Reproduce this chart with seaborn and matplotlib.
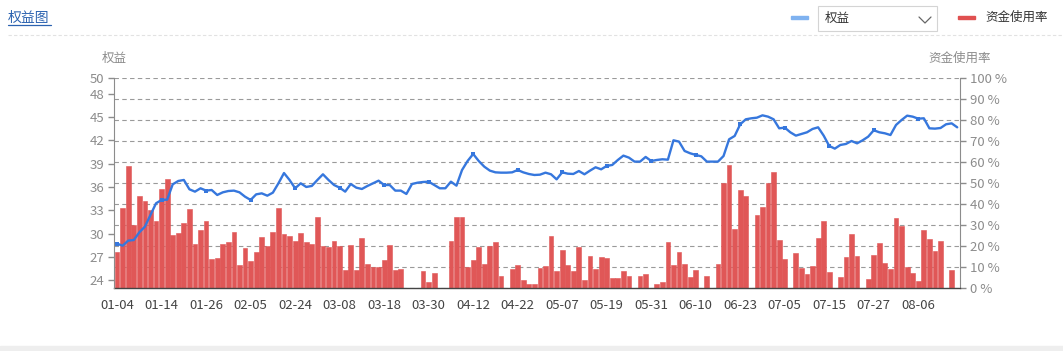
import numpy as np
import pandas as pd
import matplotlib
matplotlib.use("Agg")
import matplotlib.pyplot as plt
from matplotlib.lines import Line2D
from matplotlib.patches import Rectangle
import seaborn as sns

# ─────────────────────────────────────────────
# DATA
# ─────────────────────────────────────────────
tick_labels = ["01-04", "01-14", "01-26", "02-05", "02-24", "03-08", "03-18",
               "03-30", "04-12", "04-22", "05-07", "05-19", "05-31", "06-10",
               "06-23", "07-05", "07-15", "07-27", "08-06"]

# 资金使用率 (%), one value per trading day, 0 = no bar
usage = [17.3, 37.9, 58.3, 30.2, 44.0, 41.3, 37.1, 32.0, 47.1, 51.7,
         25.2, 26.2, 30.8, 37.6, 21.0, 27.6, 32.0, 13.7, 14.4, 21.1,
         21.7, 26.7, 11.0, 19.0, 12.9, 17.1, 24.3, 20.0, 26.8, 38.3,
         25.7, 24.9, 22.4, 26.0, 22.1, 20.8, 34.0, 19.8, 19.4, 22.4,
         20.0, 8.6, 20.3, 8.7, 23.7, 11.3, 10.2, 10.2, 13.3, 20.3,
         8.7, 9.2, 0, 0, 0, 8.1, 2.7, 7.0, 0, 0,
         22.2, 33.8, 33.8, 9.8, 13.2, 19.7, 11.6, 20.2, 21.9, 5.6,
         0, 9.2, 11.1, 4.0, 2.1, 2.1, 9.5, 10.3, 24.6, 8.1,
         17.9, 11.0, 8.1, 19.7, 4.0, 15.2, 8.9, 14.8, 14.3, 4.8,
         4.8, 7.9, 5.6, 0, 5.6, 6.5, 0, 1.9, 2.7, 21.9,
         11.0, 17.3, 11.3, 5.2, 8.6, 0, 5.7, 0, 11.6, 50.0,
         58.4, 27.9, 46.5, 43.8, 0, 34.8, 38.6, 49.8, 55.2, 22.7,
         13.8, 0, 16.7, 9.7, 6.7, 10.5, 23.8, 31.9, 7.8, 0,
         5.4, 14.8, 25.7, 15.2, 0, 4.3, 15.7, 21.4, 11.9, 9.0,
         33.5, 29.7, 10.2, 7.0, 3.2, 27.6, 23.3, 17.6, 22.2, 0,
         8.4, 0]

# 权益
equity = [28.70, 28.44, 29.09, 29.17, 30.16, 30.89, 32.39, 33.89, 34.32, 34.36,
          36.33, 36.76, 36.89, 35.69, 35.39, 35.82, 35.52, 35.60, 34.96, 35.30,
          35.47, 35.52, 35.30, 34.74, 34.32, 35.04, 35.17, 34.87, 35.26, 36.46,
          37.78, 36.89, 35.82, 36.46, 35.99, 36.12, 36.89, 37.62, 36.89, 36.24,
          35.90, 35.39, 36.37, 35.90, 35.73, 36.12, 36.46, 36.80, 36.24, 36.24,
          35.52, 35.52, 35.09, 36.37, 36.54, 36.63, 36.67, 36.24, 35.82, 35.82,
          36.67, 36.16, 38.17, 39.33, 40.23, 39.33, 38.60, 38.09, 37.87, 37.83,
          37.83, 37.87, 38.17, 37.87, 37.66, 37.53, 37.57, 37.83, 37.62, 36.97,
          37.87, 37.70, 37.66, 38.04, 37.62, 38.09, 38.52, 38.26, 38.69, 38.82,
          39.46, 40.02, 39.76, 39.25, 39.25, 39.85, 39.33, 39.46, 39.55, 39.50,
          41.99, 41.82, 40.62, 40.32, 40.11, 39.93, 39.25, 39.25, 39.25, 39.97,
          42.12, 42.55, 44.05, 44.69, 44.82, 44.90, 45.20, 45.03, 44.69, 43.53,
          43.62, 43.02, 42.59, 42.80, 43.02, 43.45, 43.66, 42.59, 41.26, 40.92,
          41.39, 41.52, 41.90, 41.60, 41.99, 42.46, 43.28, 43.02, 42.89, 42.67,
          43.96, 44.60, 45.16, 45.03, 44.77, 44.82, 43.53, 43.49, 43.57, 44.05,
          44.17, 43.66]

left_ticks = [24, 27, 30, 33, 36, 39, 42, 45, 48, 50]
right_ticks = [0, 10, 20, 30, 40, 50, 60, 70, 80, 90, 100]

BAR_RED = "#e05757"
LINE_BLUE = "#3677dd"
GRID = "#9a9a9a"
AXIS_GREY = "#8c8c8c"

# ─────────────────────────────────────────────
# STYLE
# ─────────────────────────────────────────────
sns.set_style("white")
plt.rcParams["font.family"] = ["Noto Sans CJK SC", "DejaVu Sans"]

W, H = 1063, 351
fx = lambda x: x / W
fy = lambda y: 1 - y / H

df = pd.DataFrame({"day": np.arange(len(usage)), "usage": usage, "equity": equity})

fig = plt.figure(figsize=(W / 100, H / 100), dpi=100)
ax = fig.add_axes([fx(114.3), fy(288), (960 - 114.3) / W, 210 / H])

# bars: 资金使用率 (right axis)
sns.barplot(data=df, x="day", y="usage", ax=ax, color=BAR_RED,
            saturation=1, width=0.86, edgecolor=BAR_RED, linewidth=0.4,
            zorder=2)

# line: 权益 (left axis) -- twinx moves ax ticks to the left, so style ax after
ax2 = ax.twinx()
sns.lineplot(data=df, x="day", y="equity", ax=ax2, color=LINE_BLUE,
             linewidth=1.7, marker="s", markersize=3.5, markevery=8,
             markeredgewidth=0)

ax.set_xlim(-0.5, len(usage) - 0.5)
ax.set_ylim(0, 100)
ax.set_yticks(right_ticks)
ax.set_yticklabels([f"{v} %" for v in right_ticks])
ax.yaxis.tick_right()
ax.set_axisbelow(True)
ax.yaxis.grid(True, linestyle=(0, (4, 3)), color=GRID, linewidth=0.8)
ax.xaxis.grid(False)
ax.set_xlabel("")
ax.set_ylabel("")

ax.set_xticks(range(0, len(usage), 8))
ax.set_xticklabels(tick_labels)
ax.set_xticks(range(4, len(usage), 8), minor=True)
ax.tick_params(axis="x", which="major", length=0, pad=8, labelsize=9.5,
               labelcolor="#444444")
ax.tick_params(axis="x", which="minor", length=4, width=1, color="#444444")
ax.tick_params(axis="y", which="both", left=False, labelleft=False,
               right=True, labelright=True, length=4, width=1,
               color=AXIS_GREY, pad=3, labelsize=9.5, labelcolor="#8c8c8c")

for s in ["top", "left"]:
    ax.spines[s].set_visible(False)
ax.spines["right"].set_color(AXIS_GREY)
ax.spines["bottom"].set_color("#444444")
ax.spines["bottom"].set_linewidth(1)

ax2.yaxis.tick_left()
ax2.set_ylim(23, 50)
ax2.set_yticks(left_ticks)
ax2.set_xlabel("")
ax2.set_ylabel("")
ax2.tick_params(axis="y", length=4, width=1, color=AXIS_GREY, pad=3,
                labelsize=9.5, labelcolor="#8c8c8c")
for s in ["top", "right", "bottom"]:
    ax2.spines[s].set_visible(False)
ax2.spines["left"].set_color(AXIS_GREY)

# axis names
fig.text(fx(114.5), fy(58), "权益", ha="center", va="center",
         fontsize=9, color="#8c8c8c")
fig.text(fx(960), fy(58), "资金使用率", ha="center", va="center",
         fontsize=9, color="#8c8c8c")

# ─────────────────────────────────────────────
# HEADER: title, legend, dropdown
# ─────────────────────────────────────────────
fig.text(fx(8), fy(18), "权益图", ha="left", va="center", fontsize=10,
         color="#2b62b0")
fig.add_artist(Line2D([fx(8), fx(51)], [fy(25), fy(25)], color="#2b62b0",
                      linewidth=0.9))
fig.add_artist(Line2D([fx(8), fx(1063)], [fy(35), fy(35)], color="#e2e2e2",
                      linewidth=0.8, linestyle=(0, (3, 2))))

fig.add_artist(Rectangle((fx(791), fy(19)), 17 / W, 3.5 / H,
                         color="#7fb2f0", transform=fig.transFigure))
fig.add_artist(Rectangle((fx(818), fy(31)), 119 / W, 25 / H, facecolor="white",
                         edgecolor="#d4d4d4", linewidth=0.8,
                         transform=fig.transFigure))
fig.text(fx(825), fy(18.5), "权益", ha="left", va="center", fontsize=9,
         color="#333333")
fig.add_artist(Line2D([fx(919), fx(925), fx(931)], [fy(17), fy(23), fy(17)],
                      color="#666666", linewidth=0.9))

fig.add_artist(Rectangle((fx(958), fy(19)), 17 / W, 3.5 / H,
                         color="#e05050", transform=fig.transFigure))
fig.text(fx(985), fy(17.5), "资金使用率", ha="left", va="center", fontsize=9,
         color="#333333")

# bottom strip
fig.add_artist(Rectangle((0, 0), 1, 5 / H, color="#eeeeee",
                         transform=fig.transFigure))

fig.savefig("out.png", dpi=100)
